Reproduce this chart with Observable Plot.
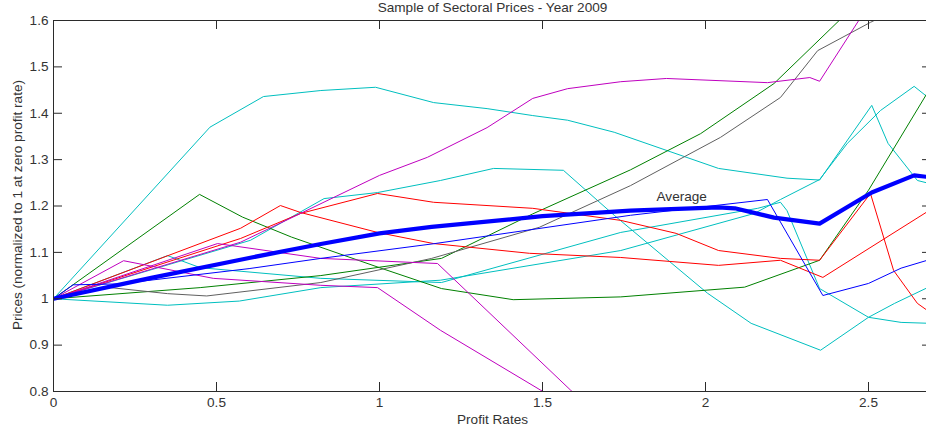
<!DOCTYPE html>
<html>
<head>
<meta charset="utf-8">
<script src="https://cdn.jsdelivr.net/npm/d3@7"></script>
<script src="https://cdn.jsdelivr.net/npm/@observablehq/plot@0.6"></script>
<style>
  html, body { margin: 0; padding: 0; background: #ffffff; }
  #chart svg { display: block; }
</style>
</head>
<body>
<div id="chart"></div>
<script>
// ---- texts ----
const titleText = "Sample of Sectoral Prices - Year 2009";
const xLabelText = "Profit Rates";
const yLabelText = "Prices (normalized to 1 at zero profit rate)";
const avgLabelText = "Average";

// ---- ticks ----
const xTicks = [0, 0.5, 1, 1.5, 2, 2.5];
const xTickLabels = ["0", "0.5", "1", "1.5", "2", "2.5"];
const yTicks = [0.8, 0.9, 1, 1.1, 1.2, 1.3, 1.4, 1.5, 1.6];
const yTickLabels = ["0.8", "0.9", "1", "1.1", "1.2", "1.3", "1.4", "1.5", "1.6"];

// ---- series (profit rate, normalized price) ----
const cyan1 = [[0,1],[0.48,1.37],[0.644,1.436],[0.82,1.449],[0.988,1.456],[1.166,1.423],[1.33,1.41],[1.47,1.395],[1.577,1.385],[1.72,1.359],[2.04,1.281],[2.25,1.26],[2.35,1.256],[2.51,1.417],[2.56,1.335],[2.65,1.255],[2.69,1.248]];
const cyan2 = [[0,1],[0.604,1.126],[0.83,1.216],[0.994,1.229],[1.187,1.255],[1.35,1.281],[1.564,1.277],[1.72,1.18],[2.006,1.012],[2.14,0.947],[2.353,0.889],[2.5,0.96],[2.58,0.99],[2.69,1.027]];
const cyan3 = [[0,1],[0.35,0.986],[0.57,0.995],[0.82,1.024],[1.187,1.04],[1.74,1.104],[2.15,1.184],[2.23,1.214],[2.35,1.257],[2.435,1.335],[2.537,1.406],[2.64,1.458],[2.69,1.43]];
const cyan4 = [[0,1],[0.35,1.093],[0.45,1.067],[0.82,1.044],[1.19,1.035],[1.74,1.143],[2.16,1.195],[2.23,1.208],[2.25,1.19],[2.35,1.022],[2.5,0.96],[2.6,0.949],[2.69,0.947]];
const green1 = [[0,1],[0.448,1.225],[0.58,1.176],[0.73,1.133],[1.0,1.067],[1.19,1.022],[1.41,0.998],[1.74,1.004],[2.12,1.025],[2.35,1.083],[2.5,1.234],[2.69,1.455]];
const green2 = [[0,1],[0.45,1.024],[0.82,1.05],[1.0,1.068],[1.19,1.087],[1.47,1.183],[1.77,1.278],[1.985,1.356],[2.21,1.464],[2.41,1.6],[2.69,1.8]];
const gray1 = [[0,1],[0.175,1.024],[0.35,1.011],[0.47,1.006],[0.82,1.035],[1.16,1.087],[1.49,1.154],[1.77,1.244],[2.046,1.348],[2.23,1.434],[2.344,1.535],[2.506,1.596],[2.69,1.66]];
const red1 = [[0,1],[0.574,1.152],[0.696,1.201],[0.758,1.186],[0.994,1.143],[1.166,1.119],[1.46,1.098],[1.74,1.089],[2.04,1.072],[2.23,1.083],[2.36,1.046],[2.69,1.192]];
const red2 = [[0,1],[0.574,1.13],[0.758,1.184],[0.994,1.227],[1.166,1.208],[1.47,1.195],[1.74,1.169],[1.91,1.141],[2.04,1.104],[2.23,1.087],[2.35,1.083],[2.506,1.227],[2.577,1.061],[2.65,0.99],[2.69,0.97]];
const magenta1 = [[0,1],[0.574,1.122],[0.758,1.184],[1.0,1.266],[1.147,1.305],[1.33,1.369],[1.47,1.432],[1.577,1.453],[1.74,1.468],[1.88,1.475],[2.19,1.466],[2.32,1.477],[2.35,1.469],[2.47,1.6],[2.6,1.75]];
const magenta2 = [[0,1],[0.215,1.082],[0.49,1.044],[0.82,1.029],[0.994,1.024],[1.187,0.932],[1.494,0.803],[1.6,0.76]];
const magenta3 = [[0,1],[0.503,1.119],[0.82,1.087],[1.178,1.076],[1.586,0.803],[1.7,0.73]];
const blue1 = [[0,1],[0.06,1.03],[0.2,1.032],[0.6,1.065],[0.82,1.087],[1.17,1.119],[1.77,1.18],[2.19,1.214],[2.36,1.007],[2.5,1.033],[2.6,1.066],[2.69,1.085]];
const average = [[0,1],[0.3,1.045],[0.6,1.088],[0.82,1.118],[1.0,1.141],[1.16,1.155],[1.5,1.178],[1.77,1.19],[2.04,1.197],[2.09,1.195],[2.21,1.175],[2.35,1.162],[2.51,1.229],[2.64,1.266],[2.69,1.262]];

const avgLabelPos = [1.927, 1.221];

const thinSeries = [
  {name: "cyan1", color: "#00BFBF", pts: cyan1},
  {name: "cyan2", color: "#00BFBF", pts: cyan2},
  {name: "cyan3", color: "#00BFBF", pts: cyan3},
  {name: "cyan4", color: "#00BFBF", pts: cyan4},
  {name: "green1", color: "#008000", pts: green1},
  {name: "green2", color: "#008000", pts: green2},
  {name: "gray1", color: "#606060", pts: gray1},
  {name: "red1", color: "#FF0000", pts: red1},
  {name: "red2", color: "#FF0000", pts: red2},
  {name: "magenta1", color: "#BF00BF", pts: magenta1},
  {name: "magenta2", color: "#BF00BF", pts: magenta2},
  {name: "magenta3", color: "#BF00BF", pts: magenta3},
  {name: "blue1", color: "#0000FF", pts: blue1}
];

const toRows = pts => pts.map(([x, y]) => ({x, y}));

const W = 926, H = 430;
const mL = 53, mR = -5, mT = 20, mB = 39;
const tickLen = 9;
const innerW = W - mL - mR;
const innerH = H - mT - mB;
const axisColor = "#2b2b2b";
const textColor = "#333333";

const marks = [];
for (const s of thinSeries) {
  marks.push(Plot.line(toRows(s.pts), {x: "x", y: "y", stroke: s.color, strokeWidth: 1, clip: true}));
}
marks.push(Plot.line(toRows(average), {x: "x", y: "y", stroke: "#0000FF", strokeWidth: 4.2, strokeLinejoin: "round", clip: true}));

// inward ticks (MATLAB style)
marks.push(Plot.ruleX(xTicks, {stroke: axisColor, insetTop: innerH - tickLen}));
marks.push(Plot.ruleX(xTicks, {stroke: axisColor, insetBottom: innerH - tickLen}));
marks.push(Plot.ruleY(yTicks, {stroke: axisColor, insetRight: innerW - tickLen}));
marks.push(Plot.ruleY(yTicks, {stroke: axisColor, insetLeft: innerW - tickLen}));
// axes box
marks.push(Plot.ruleX([xTicks[0]], {stroke: axisColor}));
marks.push(Plot.ruleY([yTicks[0]], {stroke: axisColor}));
marks.push(Plot.ruleY([yTicks[yTicks.length - 1]], {stroke: axisColor}));

// tick labels
marks.push(Plot.axisX(xTicks, {anchor: "bottom", tickSize: 0, tickPadding: 6, label: null,
  tickFormat: d => xTickLabels[xTicks.indexOf(d)], fill: textColor}));
marks.push(Plot.axisY(yTicks, {anchor: "left", tickSize: 0, tickPadding: 5, label: null,
  tickFormat: d => yTickLabels[yTicks.indexOf(d)], fill: textColor}));

// titles
marks.push(Plot.text([titleText], {text: d => d, frameAnchor: "top", textAnchor: "middle", lineAnchor: "bottom", dy: -8.5, fill: textColor}));
marks.push(Plot.text([xLabelText], {text: d => d, frameAnchor: "bottom", textAnchor: "middle", lineAnchor: "bottom", dy: 32, fill: textColor}));
marks.push(Plot.text([yLabelText], {text: d => d, frameAnchor: "left", textAnchor: "middle", rotate: -90, lineAnchor: "bottom", dx: -32, dy: -1, fill: textColor}));
marks.push(Plot.text([{x: avgLabelPos[0], y: avgLabelPos[1], t: avgLabelText}], {x: "x", y: "y", text: "t", fill: textColor}));

const chart = Plot.plot({
  width: W,
  height: H,
  marginLeft: mL,
  marginRight: mR,
  marginTop: mT,
  marginBottom: mB,
  x: {domain: [0, (W - mL - mR) / 326]},
  y: {domain: [0.8, 1.6]},
  style: {fontFamily: "'Liberation Sans', Arial, Helvetica, sans-serif", fontSize: "13.6px", background: "#ffffff", color: textColor, overflow: "visible"},
  marks
});
document.getElementById("chart").appendChild(chart);
</script>
</body>
</html>
